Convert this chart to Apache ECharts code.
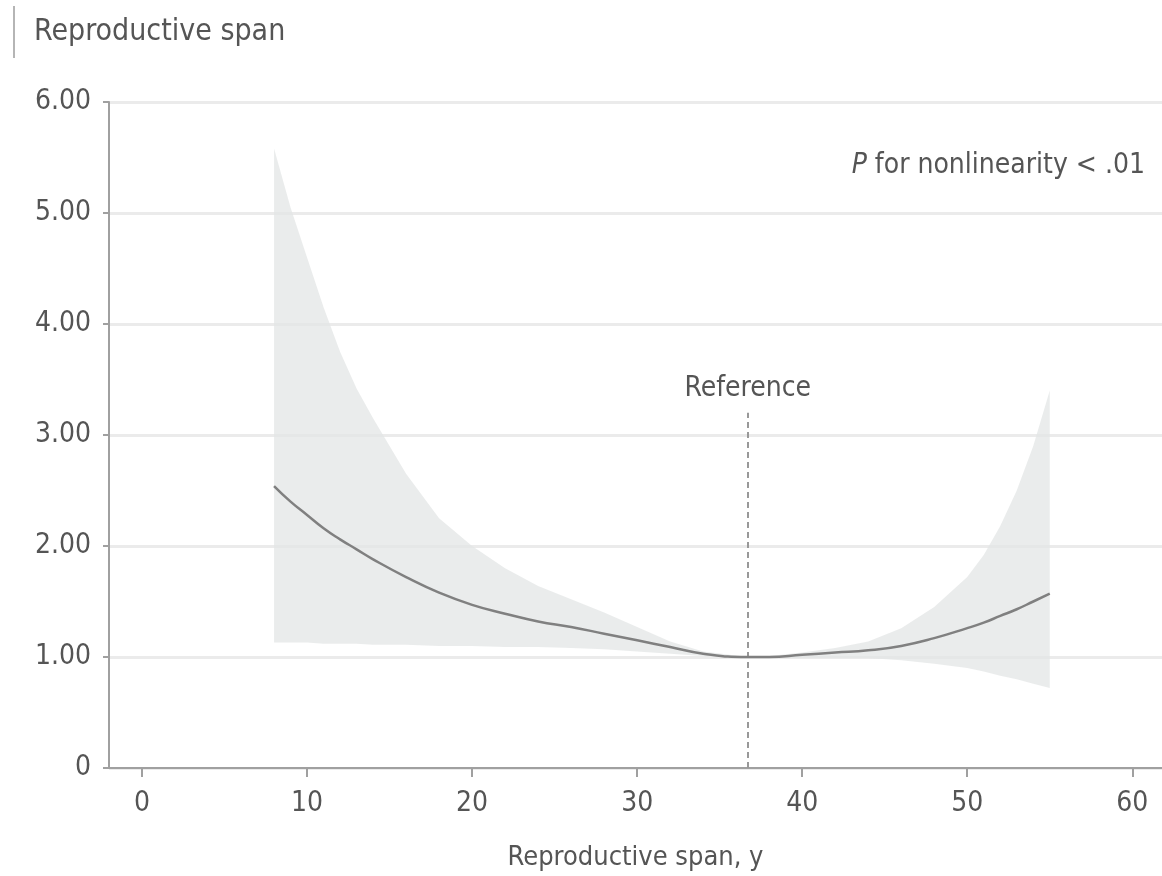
<!DOCTYPE html>
<html>
<head>
<meta charset="utf-8">
<script src="https://cdn.jsdelivr.net/npm/echarts@6/dist/echarts.min.js"></script>
<style>
  html, body { margin: 0; padding: 0; background: #fff; }
  #chart { width: 1162px; height: 876px; }
</style>
</head>
<body>
<div id="chart"></div>
<script>
  // reproductive span (years) where the curve was read
  var spanYears = [8, 9, 10, 11, 12, 13, 14, 16, 18, 20, 22, 24, 26, 28, 30, 32, 34, 36.7, 38, 40, 42, 44, 46, 48, 50, 51, 52, 53, 54, 55];
  // hazard ratio, central estimate
  var hrMid = [2.54, 2.40, 2.28, 2.16, 2.06, 1.97, 1.88, 1.72, 1.58, 1.47, 1.39, 1.32, 1.27, 1.21, 1.15, 1.09, 1.03, 1.00, 1.00, 1.02, 1.04, 1.06, 1.10, 1.17, 1.26, 1.31, 1.37, 1.43, 1.50, 1.57];
  // 95% CI bounds
  var hrLow = [1.13, 1.13, 1.13, 1.12, 1.12, 1.12, 1.11, 1.11, 1.10, 1.10, 1.09, 1.09, 1.08, 1.07, 1.05, 1.03, 1.01, 1.00, 0.99, 0.99, 0.99, 0.99, 0.97, 0.94, 0.90, 0.87, 0.83, 0.80, 0.76, 0.72];
  var hrHigh = [5.58, 5.05, 4.60, 4.15, 3.75, 3.42, 3.15, 2.65, 2.25, 2.00, 1.80, 1.64, 1.52, 1.40, 1.27, 1.14, 1.05, 1.00, 1.01, 1.04, 1.08, 1.14, 1.26, 1.45, 1.72, 1.92, 2.18, 2.50, 2.90, 3.40];

  var xTicks = [0, 10, 20, 30, 40, 50, 60];
  var refSpan = 36.7;
  var refTop = 3.2;

  var font = "'DejaVu Sans Condensed', 'DejaVu Sans', sans-serif";
  var txt = '#555';
  var axisGray = '#a0a0a0';

  var midData = spanYears.map(function (x, i) { return [x, hrMid[i]]; });

  // confidence band drawn as one polygon: upper edge forward, lower edge back
  function renderBand(params, api) {
    if (params.dataIndex !== 0) return null;
    var pts = [];
    for (var i = 0; i < spanYears.length; i++) pts.push(api.coord([spanYears[i], hrHigh[i]]));
    for (var j = spanYears.length - 1; j >= 0; j--) pts.push(api.coord([spanYears[j], hrLow[j]]));
    return {
      type: 'polygon',
      shape: { points: pts },
      style: { fill: '#e3e6e5', opacity: 0.75 }
    };
  }

  var chart = echarts.init(document.getElementById('chart'));
  chart.setOption({
    animation: false,
    backgroundColor: '#fff',
    textStyle: { fontFamily: font },
    grid: { left: 109, right: 0, top: 102, bottom: 106 },
    graphic: [
      { type: 'rect', left: 13, top: 6, shape: { width: 2, height: 52 }, style: { fill: '#b5b5b5' } },
      { type: 'text', left: 34, top: 17, style: { text: 'Reproductive span', fill: txt, font: '30px ' + font } },
      {
        type: 'text', right: 17, top: 152, z: 10,
        style: {
          text: '{i|P} for nonlinearity < .01',
          fill: txt,
          font: '28px ' + font,
          rich: { i: { fontStyle: 'italic', fontSize: 28, fontFamily: font, fill: txt } }
        }
      }
    ],
    xAxis: {
      type: 'value',
      min: -2,
      max: 61.8,
      name: 'Reproductive span, y',
      nameLocation: 'middle',
      nameGap: 76,
      nameTextStyle: { color: txt, fontSize: 27, fontFamily: font },
      axisLine: { onZero: false, lineStyle: { color: axisGray, width: 2 } },
      axisTick: { customValues: xTicks, length: 9, lineStyle: { color: axisGray, width: 2 } },
      axisLabel: { customValues: xTicks, color: txt, fontSize: 28, margin: 22, fontFamily: font },
      splitLine: { show: false }
    },
    yAxis: {
      type: 'value',
      min: 0,
      max: 6,
      interval: 1,
      axisLine: { show: true, onZero: false, lineStyle: { color: axisGray, width: 2 } },
      axisTick: { show: true, length: 6, lineStyle: { color: axisGray, width: 2 } },
      axisLabel: {
        color: txt, fontSize: 28, margin: 18, fontFamily: font,
        formatter: function (v) { return v === 0 ? '0' : v.toFixed(2); }
      },
      splitLine: { lineStyle: { color: '#ebebeb', width: 3 } }
    },
    series: [
      {
        type: 'custom',
        data: [0],
        renderItem: renderBand,
        silent: true,
        z: 1
      },
      {
        type: 'line',
        data: midData,
        smooth: true,
        symbol: 'none',
        lineStyle: { color: '#808080', width: 2.5 },
        z: 5,
        markLine: {
          silent: true,
          symbol: 'none',
          lineStyle: { color: '#999', type: [6, 4], width: 2 },
          label: {
            show: true,
            position: 'end',
            formatter: 'Reference',
            color: txt,
            fontSize: 28,
            fontFamily: font,
            distance: 10
          },
          data: [[{ coord: [refSpan, 0] }, { coord: [refSpan, refTop] }]]
        }
      }
    ]
  });
</script>
</body>
</html>
